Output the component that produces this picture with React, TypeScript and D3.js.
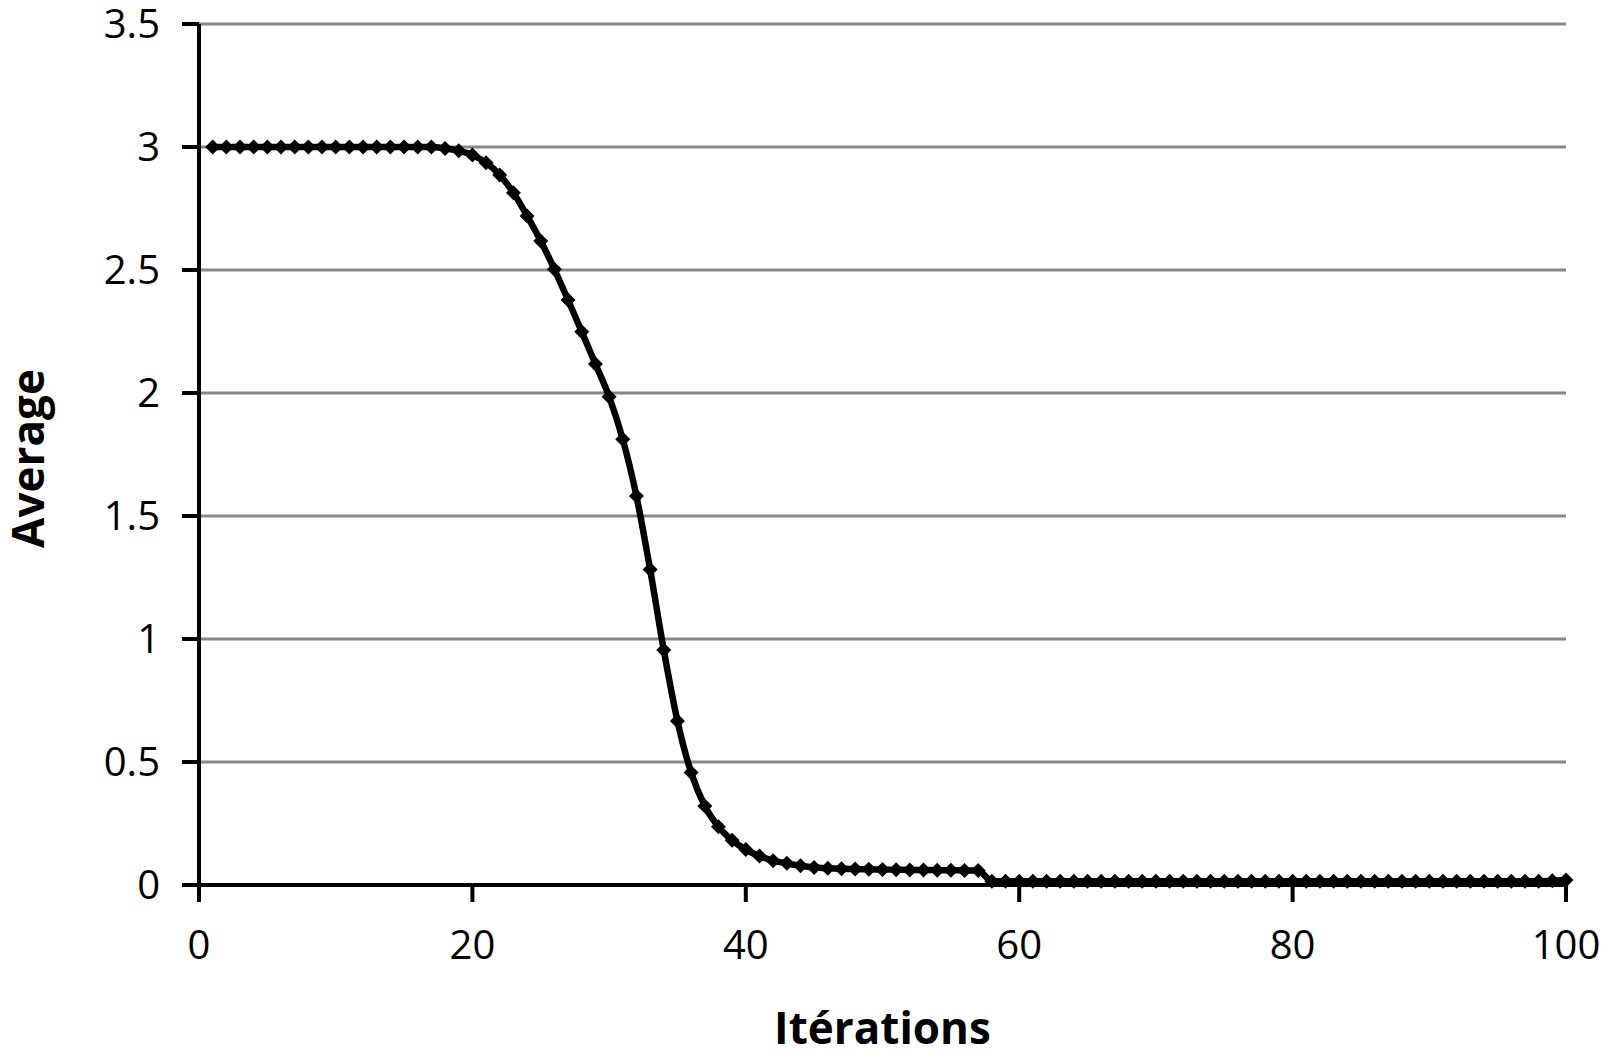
import React from "react";
import * as d3 from "d3";

const iterations: number[] = Array.from({ length: 100 }, (_, i) => i + 1);
const averages: number[] = [
  3, 3, 3, 3, 3, 3, 3, 3, 3, 3,
  3, 3, 3, 3, 3, 3, 3, 2.994, 2.985, 2.967,
  2.936, 2.886, 2.814, 2.72, 2.618, 2.503, 2.378, 2.249, 2.118, 1.985,
  1.812, 1.581, 1.283, 0.955, 0.667, 0.457, 0.321, 0.237, 0.182, 0.144,
  0.118, 0.099, 0.088, 0.078, 0.071, 0.068, 0.066, 0.065, 0.064, 0.063,
  0.062, 0.061, 0.061, 0.06, 0.06, 0.059, 0.059, 0.015, 0.015, 0.015,
  0.015, 0.015, 0.015, 0.015, 0.015, 0.015, 0.015, 0.015, 0.015, 0.015,
  0.015, 0.015, 0.015, 0.015, 0.015, 0.015, 0.015, 0.015, 0.015, 0.015,
  0.015, 0.015, 0.015, 0.015, 0.015, 0.015, 0.015, 0.015, 0.015, 0.015,
  0.015, 0.015, 0.015, 0.015, 0.015, 0.015, 0.015, 0.015, 0.017, 0.02,
];
const xTicks: number[] = [0, 20, 40, 60, 80, 100];
const yTicks: number[] = [0, 0.5, 1, 1.5, 2, 2.5, 3, 3.5];
const xTitle = "Itérations";
const yTitle = "Average";

const W = 1603;
const H = 1062;
const left = 199;
const right = 1566;
const top = 24;
const bottom = 885;

export default function App() {
  const x = d3.scaleLinear().domain([0, 100]).range([left, right]);
  const y = d3.scaleLinear().domain([0, 3.5]).range([bottom, top]);
  const pts = iterations.map((it, i) => [it, averages[i]] as [number, number]);
  const line = d3
    .line<[number, number]>()
    .x((d) => x(d[0]))
    .y((d) => y(d[1]))
    .curve(d3.curveMonotoneX);
  const font = "'Open Sans', 'Noto Sans', sans-serif";
  return (
    <svg
      width={W}
      height={H}
      style={{ position: "absolute", left: 0, top: 0, background: "#fff" }}
    >
      <rect x={0} y={0} width={W} height={H} fill="#fff" />
      {yTicks
        .filter((t) => t > 0)
        .map((t) => (
          <line
            key={"g" + t}
            x1={left}
            x2={right}
            y1={y(t)}
            y2={y(t)}
            stroke="#888888"
            strokeWidth={3}
          />
        ))}
      <line x1={left} x2={left} y1={top} y2={bottom + 17} stroke="#000" strokeWidth={4} />
      <line x1={left - 17} x2={right} y1={bottom} y2={bottom} stroke="#000" strokeWidth={4} />
      {yTicks.map((t) => (
        <line
          key={"yt" + t}
          x1={left - 17}
          x2={left}
          y1={y(t)}
          y2={y(t)}
          stroke="#000"
          strokeWidth={4}
        />
      ))}
      {xTicks.map((t) => (
        <line
          key={"xt" + t}
          x1={x(t)}
          x2={x(t)}
          y1={bottom}
          y2={bottom + 17}
          stroke="#000"
          strokeWidth={4}
        />
      ))}
      {yTicks.map((t) => (
        <text
          key={"yl" + t}
          x={160}
          y={y(t)}
          dy="0.36em"
          textAnchor="end"
          fontFamily={font}
          fontSize={40}
          fill="#000"
        >
          {String(t)}
        </text>
      ))}
      {xTicks.map((t) => (
        <text
          key={"xl" + t}
          x={x(t)}
          y={959}
          textAnchor="middle"
          fontFamily={font}
          fontSize={40}
          fill="#000"
        >
          {String(t)}
        </text>
      ))}
      <text
        x={(left + right) / 2}
        y={1044}
        textAnchor="middle"
        fontFamily={font}
        fontWeight="bold"
        fontSize={44}
        fill="#000"
      >
        {xTitle}
      </text>
      <text
        transform={`translate(44, ${(top + bottom) / 2 + 4}) rotate(-90)`}
        textAnchor="middle"
        fontFamily={font}
        fontWeight="bold"
        fontSize={44}
        fill="#000"
      >
        {yTitle}
      </text>
      <path d={line(pts) || ""} fill="none" stroke="#000" strokeWidth={6.5} strokeLinejoin="round" />
      {pts.map((d, i) => (
        <path
          key={"m" + i}
          transform={`translate(${x(d[0])},${y(d[1])})`}
          d="M0,-7.5L7.5,0L0,7.5L-7.5,0Z"
          fill="#000"
        />
      ))}
    </svg>
  );
}
